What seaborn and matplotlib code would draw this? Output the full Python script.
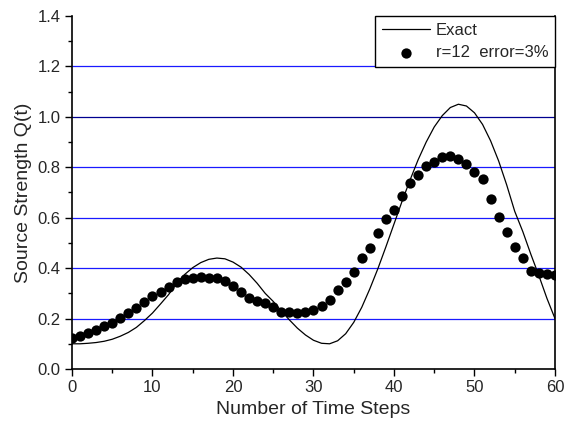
import numpy as np
import pandas as pd
import matplotlib
matplotlib.use("Agg")
import matplotlib.pyplot as plt
import seaborn as sns
from matplotlib.ticker import MultipleLocator

# ---- data ----
steps = list(range(61))
exact_q = [0.100, 0.100, 0.102, 0.105, 0.110, 0.118, 0.130, 0.145, 0.165, 0.192,
           0.222, 0.258, 0.295, 0.340, 0.375, 0.402, 0.422, 0.435, 0.440, 0.437,
           0.424, 0.404, 0.375, 0.340, 0.300, 0.268, 0.230, 0.195, 0.162, 0.135,
           0.114, 0.102, 0.100, 0.112, 0.140, 0.185, 0.245, 0.318, 0.398, 0.485,
           0.575, 0.665, 0.750, 0.830, 0.900, 0.960, 1.005, 1.037, 1.050, 1.043,
           1.016, 0.970, 0.905, 0.825, 0.730, 0.625, 0.545, 0.455, 0.370, 0.280,
           0.200]
recon_q = [0.124, 0.131, 0.142, 0.156, 0.169, 0.184, 0.204, 0.222, 0.243, 0.267,
           0.291, 0.307, 0.325, 0.344, 0.356, 0.362, 0.366, 0.362, 0.360, 0.350,
           0.329, 0.307, 0.283, 0.270, 0.260, 0.247, 0.227, 0.226, 0.223, 0.227,
           0.233, 0.250, 0.274, 0.312, 0.346, 0.383, 0.442, 0.479, 0.538, 0.596,
           0.631, 0.686, 0.739, 0.771, 0.805, 0.821, 0.840, 0.846, 0.833, 0.813,
           0.783, 0.752, 0.676, 0.602, 0.542, 0.484, 0.442, 0.388, 0.381, 0.378,
           0.372]
grid_levels = [0.2, 0.4, 0.6, 0.8, 1.0, 1.2]
label_exact = "Exact"
label_recon = "r=12  error=3%"

sns.set_style("ticks")
plt.rcParams['font.family'] = ['Liberation Sans', 'DejaVu Sans']

df_exact = pd.DataFrame({"t": steps, "q": exact_q})
df_recon = pd.DataFrame({"t": steps, "q": recon_q})

fig = plt.figure(figsize=(5.74, 4.24), dpi=100)
ax = fig.add_axes([0.1254, 0.1297, 0.8415, 0.8326])

for g in grid_levels:
    col = '#000090' if abs(g - 1.0) < 1e-9 else '#1a1aff'
    ax.axhline(g, color=col, lw=0.9, zorder=1)

sns.lineplot(data=df_exact, x="t", y="q", ax=ax, color='black', lw=0.9,
             label=label_exact, zorder=3)
sns.scatterplot(data=df_recon, x="t", y="q", ax=ax, color='black', s=55,
                edgecolor='black', linewidth=0, label=label_recon, zorder=4)

ax.set_xlim(0, 60)
ax.set_ylim(0, 1.4)
ax.xaxis.set_major_locator(MultipleLocator(10))
ax.xaxis.set_minor_locator(MultipleLocator(5))
ax.yaxis.set_major_locator(MultipleLocator(0.2))
ax.yaxis.set_minor_locator(MultipleLocator(0.1))
ax.yaxis.set_major_formatter(matplotlib.ticker.FormatStrFormatter('%.1f'))
ax.tick_params(which='major', length=5, width=1, labelsize=12, direction='out',
               color='black', pad=3)
ax.tick_params(which='minor', length=3, width=1, direction='out', color='black')

for side in ['left', 'bottom', 'right']:
    ax.spines[side].set_visible(True)
    ax.spines[side].set_color('black')
    ax.spines[side].set_linewidth(1.2)
ax.spines['top'].set_visible(False)

ax.set_xlabel("Number of Time Steps", fontsize=14, labelpad=4)
ax.set_ylabel("Source Strength Q(t)", fontsize=14, labelpad=4)

leg = ax.legend(loc='upper right', borderaxespad=0, fontsize=12, frameon=True,
                fancybox=False, edgecolor='black', handlelength=2.9,
                handletextpad=0.35, borderpad=0.4, labelspacing=0.45)
leg.get_frame().set_linewidth(1.0)
leg.get_frame().set_alpha(1)

fig.savefig("out.png", dpi=100)
